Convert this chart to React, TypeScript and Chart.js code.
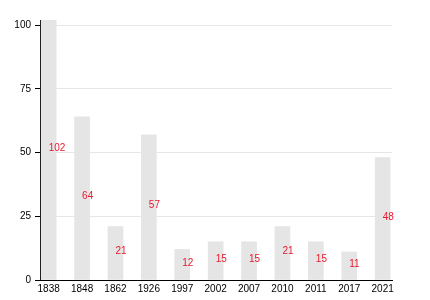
import React, { useEffect, useRef } from "react";
import { Chart, registerables } from "chart.js";

Chart.register(...registerables);

const categories = ["1838", "1848", "1862", "1926", "1997", "2002", "2007", "2010", "2011", "2017", "2021"];
const values = [102, 64, 21, 57, 12, 15, 15, 21, 15, 11, 48];
const yTicks = [0, 25, 50, 75, 100];

const FONT = "Arial, 'Liberation Sans', Helvetica, sans-serif";

const valueLabels = {
  id: "valueLabels",
  afterDatasetsDraw(chart: any) {
    const ctx = chart.ctx;
    const meta = chart.getDatasetMeta(0);
    const yScale = chart.scales.y;
    ctx.save();
    ctx.font = `10px ${FONT}`;
    ctx.fillStyle = "#e8192c";
    ctx.textAlign = "left";
    ctx.textBaseline = "alphabetic";
    meta.data.forEach((el: any, i: number) => {
      const v = values[i];
      const y = yScale.getPixelForValue(v / 2);
      ctx.fillText(String(v), el.x, y + 1);
    });
    ctx.restore();
  },
};

export default function App() {
  const ref = useRef<HTMLCanvasElement | null>(null);
  useEffect(() => {
    document.body.style.margin = "0";
    const chart = new Chart(ref.current as HTMLCanvasElement, {
      type: "bar",
      data: {
        datasets: [
          {
            data: values.map((v, i) => ({ x: i, y: v })),
            backgroundColor: "#e5e5e5",
            borderWidth: 0,
            barThickness: 15,
          },
        ],
      },
      options: {
        animation: false,
        responsive: false,
        maintainAspectRatio: false,
        layout: { padding: { top: 20, right: 38, left: 0, bottom: 0 } },
        plugins: { legend: { display: false }, tooltip: { enabled: false } },
        scales: {
          x: {
            type: "linear",
            offset: false,
            min: -0.26,
            max: 10.28,
            afterBuildTicks: (scale: any) => {
              scale.ticks = categories.map((_, i) => ({ value: i }));
            },
            afterFit: (scale: any) => {
              scale.height = 20;
            },
            ticks: {
              callback: (v: any) => categories[Math.round(Number(v))] ?? "",
              color: "#000",
              font: { size: 10, family: FONT },
              padding: 3,
              maxRotation: 0,
              autoSkip: false,
            },
            grid: { display: false, drawTicks: false, offset: false },
            border: { display: true, color: "#000", width: 1 },
          },
          y: {
            min: 0,
            max: 102,
            afterBuildTicks: (scale: any) => {
              scale.ticks = yTicks.map((v) => ({ value: v }));
            },
            afterFit: (scale: any) => {
              scale.width = 40;
            },
            ticks: {
              color: "#000",
              font: { size: 10, family: FONT },
              padding: 4,
            },
            grid: {
              color: "#e6e6e6",
              tickColor: "#000",
              tickLength: 5,
              lineWidth: 1,
            },
            border: { display: true, color: "#000", width: 1 },
          },
        },
      },
      plugins: [valueLabels],
    } as any);
    return () => chart.destroy();
  }, []);
  return (
    <div style={{ position: "absolute", left: 0, top: 0, width: 430, height: 300 }}>
      <canvas ref={ref} width={430} height={300} style={{ width: 430, height: 300 }} />
    </div>
  );
}
